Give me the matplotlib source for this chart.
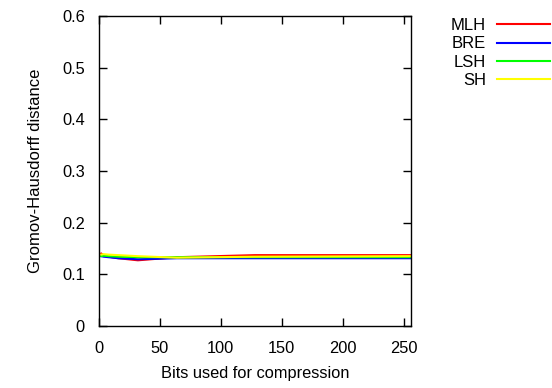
import matplotlib
matplotlib.use("Agg")
import matplotlib.pyplot as plt

plt.rcParams['font.family'] = ['Liberation Sans', 'DejaVu Sans']

bits = [2, 4, 8, 16, 32, 64, 128, 256]
mlh = [0.140, 0.137, 0.134, 0.131, 0.127, 0.133, 0.137, 0.137]
bre = [0.135, 0.134, 0.133, 0.131, 0.129, 0.131, 0.131, 0.131]
lsh = [0.135, 0.136, 0.135, 0.134, 0.133, 0.133, 0.133, 0.133]
sh = [0.138, 0.139, 0.138, 0.137, 0.135, 0.132, 0.134, 0.135]

series = [("MLH", mlh, "#ff0000"), ("BRE", bre, "#0000ff"),
          ("LSH", lsh, "#00ff00"), ("SH", sh, "#ffff00")]

fig = plt.figure(figsize=(5.52, 3.88), dpi=100)
ax = fig.add_axes([0.179, 0.160, 0.566, 0.799])

for name, vals, col in series:
    ax.plot(bits, vals, color=col, lw=1.5, label=name)

ax.set_xlim(0, 256)
ax.set_ylim(0, 0.6)
ax.set_xticks([0, 50, 100, 150, 200, 250])
ax.set_yticks([0, 0.1, 0.2, 0.3, 0.4, 0.5, 0.6])
ax.set_yticklabels(["0", "0.1", "0.2", "0.3", "0.4", "0.5", "0.6"])
ax.tick_params(direction='in', top=True, right=True, labelsize=11.8, length=6, width=1)
ax.tick_params(axis='y', pad=10)
ax.tick_params(axis='x', pad=11)
for s in ax.spines.values():
    s.set_linewidth(1)
ax.set_xlabel("Bits used for compression", fontsize=11.8, labelpad=7)
ax.set_ylabel("Gromov-Hausdorff distance", fontsize=12, labelpad=14)

fig.legend(loc='upper right', bbox_to_anchor=(0.997, 0.953), frameon=False,
           markerfirst=False, fontsize=12, handlelength=3.2, handletextpad=0.65,
           labelspacing=0.19, borderpad=0, borderaxespad=0)

fig.savefig("out.png", dpi=100)
